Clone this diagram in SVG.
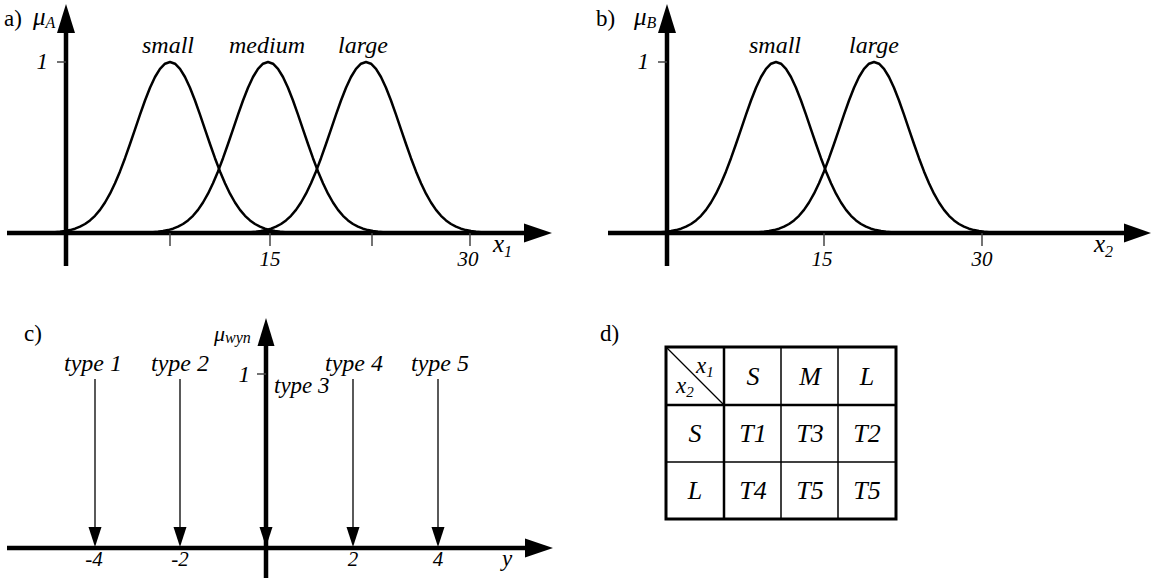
<svg xmlns="http://www.w3.org/2000/svg" xmlns:xlink="http://www.w3.org/1999/xlink" width="1152" height="579" viewBox="0 0 1152 579" font-family="'Liberation Serif', 'Times New Roman', serif">
<style>
  text { font-family: "Liberation Serif", "Times New Roman", serif; fill: #000; }
  .it { font-style: italic; }
  .lbl { font-size: 23px; }
  .set { font-size: 24px; font-style: italic; text-anchor: middle; }
  .num { font-size: 21px; font-style: italic; text-anchor: middle; }
  .axis { stroke: #000; stroke-width: 4.5; fill: none; }
  .tick { stroke: #444; stroke-width: 1.5; }
  .curve { stroke: #000; stroke-width: 2.5; fill: none; stroke-linejoin: round; }
  .thin { stroke: #000; stroke-width: 1.3; }
  .cell { font-size: 26px; font-style: italic; text-anchor: middle; }
  .tb-out { stroke: #000; stroke-width: 3; fill: none; }
  .tb-in { stroke: #000; stroke-width: 1.5; }
  .tb-hd { stroke: #000; stroke-width: 2.5; }
</style>
<defs>
  <path id="bell" class="curve" d="M -130 -0.17 L -120 -0.5 L -115 -0.8 L -110 -1.2 L -105 -1.9 L -100 -2.9 L -95 -4.3 L -90 -6.3 L -85 -9.0 L -80 -12.6 L -75 -17.2 L -70 -23.1 L -65 -30.5 L -60 -39.3 L -55 -49.7 L -50 -61.6 L -45 -74.8 L -40 -89.0 L -35 -103.7 L -30 -118.4 L -25 -132.5 L -20 -145.2 L -15 -156.0 L -10 -164.2 L -5 -169.3 L 0 -171 L 5 -169.3 L 10 -164.2 L 15 -156.0 L 20 -145.2 L 25 -132.5 L 30 -118.4 L 35 -103.7 L 40 -89.0 L 45 -74.8 L 50 -61.6 L 55 -49.7 L 60 -39.3 L 65 -30.5 L 70 -23.1 L 75 -17.2 L 80 -12.6 L 85 -9.0 L 90 -6.3 L 95 -4.3 L 100 -2.9 L 105 -1.9 L 110 -1.2 L 115 -0.8 L 120 -0.5 L 130 -0.17"/>
</defs>

<!-- Panel a -->
<g id="panel-a">
  <use xlink:href="#bell" href="#bell" x="170" y="233"/>
  <use xlink:href="#bell" href="#bell" x="268" y="233"/>
  <use xlink:href="#bell" href="#bell" x="366" y="233"/>
  <line class="axis" x1="66" y1="266" x2="66" y2="30"/>
  <polygon points="66,4 57,33 75,33"/>
  <line class="axis" x1="7" y1="233" x2="526" y2="233"/>
  <polygon points="552,233 524,223.5 524,242.5"/>
  <line class="tick" x1="57" y1="62" x2="66" y2="62"/>
  <line class="tick" x1="170" y1="233" x2="170" y2="246"/>
  <line class="tick" x1="270" y1="233" x2="270" y2="246"/>
  <line class="tick" x1="372" y1="233" x2="372" y2="246"/>
  <line class="tick" x1="470" y1="233" x2="470" y2="246"/>
  <text class="lbl" x="4" y="26">a)</text>
  <text class="it" x="33" y="25" font-size="25">μ<tspan font-size="16" dy="3">A</tspan></text>
  <text class="it lbl" x="48" y="69" text-anchor="end">1</text>
  <text class="set" x="168" y="53">small</text>
  <text class="set" x="267" y="53">medium</text>
  <text class="set" x="363" y="53">large</text>
  <text class="num" x="270" y="266">15</text>
  <text class="num" x="468" y="266">30</text>
  <text class="it" x="493" y="252" font-size="25">x<tspan font-size="16" dy="5">1</tspan></text>
</g>

<!-- Panel b -->
<g id="panel-b">
  <use xlink:href="#bell" href="#bell" x="776" y="233"/>
  <use xlink:href="#bell" href="#bell" x="874" y="233"/>
  <line class="axis" x1="667" y1="266" x2="667" y2="30"/>
  <polygon points="667,4 658,33 676,33"/>
  <line class="axis" x1="608" y1="233" x2="1126" y2="233"/>
  <polygon points="1151,233 1124,223.5 1124,242.5"/>
  <line class="tick" x1="658" y1="62" x2="667" y2="62"/>
  <line class="tick" x1="824" y1="233" x2="824" y2="246"/>
  <line class="tick" x1="982" y1="233" x2="982" y2="246"/>
  <text class="lbl" x="596" y="26">b)</text>
  <text class="it" x="634" y="25" font-size="25">μ<tspan font-size="16" dy="3">B</tspan></text>
  <text class="it lbl" x="649" y="69" text-anchor="end">1</text>
  <text class="set" x="775" y="53">small</text>
  <text class="set" x="874" y="53">large</text>
  <text class="num" x="822" y="266">15</text>
  <text class="num" x="982" y="266">30</text>
  <text class="it" x="1094" y="252" font-size="25">x<tspan font-size="16" dy="5">2</tspan></text>
</g>

<!-- Panel c -->
<g id="panel-c">
  <line class="axis" x1="266" y1="578" x2="266" y2="344"/>
  <polygon points="266,318 257.5,346 274.5,346"/>
  <line class="axis" x1="7" y1="548" x2="527" y2="548"/>
  <polygon points="553,548 525,538.5 525,557.5"/>
  <line class="tick" x1="257" y1="374" x2="266" y2="374"/>
  <text class="lbl" x="24" y="341">c)</text>
  <text class="it" x="214" y="341" font-size="22">μ<tspan font-size="16" dy="2">wyn</tspan></text>
  <text class="it lbl" x="250" y="382" text-anchor="end">1</text>
  <text class="num" x="94" y="566">-4</text>
  <text class="num" x="180" y="566">-2</text>
  <text class="num" x="353" y="566">2</text>
  <text class="num" x="438" y="566">4</text>
  <text class="it" x="507" y="566" font-size="23" text-anchor="middle">y</text>
</g>

<g id="connectors">
  <line class="thin" x1="95" y1="379" x2="95" y2="530"/>
  <polygon points="95,547 88.5,527 101.5,527"/>
  <line class="thin" x1="180" y1="379" x2="180" y2="530"/>
  <polygon points="180,547 173.5,527 186.5,527"/>
  <polygon points="266,547 259.5,527 272.5,527"/>
  <line class="thin" x1="353" y1="379" x2="353" y2="530"/>
  <polygon points="353,547 346.5,527 359.5,527"/>
  <line class="thin" x1="438" y1="379" x2="438" y2="530"/>
  <polygon points="438,547 431.5,527 444.5,527"/>
</g>

<g id="type-1"><text class="set" x="93" y="371" font-size="23">type 1</text></g>
<g id="type-2"><text class="set" x="180" y="371" font-size="23">type 2</text></g>
<g id="type-3"><text class="it" x="274" y="393" font-size="23">type 3</text></g>
<g id="type-4"><text class="set" x="354" y="371" font-size="23">type 4</text></g>
<g id="type-5"><text class="set" x="440" y="371" font-size="23">type 5</text></g>

<!-- Panel d -->
<g id="panel-d">
  <text class="lbl" x="600" y="341">d)</text>
  <line class="tb-in" x1="781" y1="347" x2="781" y2="519"/>
  <line class="tb-in" x1="838" y1="347" x2="838" y2="519"/>
  <line class="tb-in" x1="666" y1="462" x2="896" y2="462"/>
  <line class="tb-hd" x1="724" y1="347" x2="724" y2="519"/>
  <line class="tb-hd" x1="666" y1="405" x2="896" y2="405"/>
  <line stroke="#000" stroke-width="1.2" x1="666" y1="347" x2="724" y2="405"/>
  <rect class="tb-out" x="666" y="347" width="230" height="172"/>
  <text class="it" x="696" y="373" font-size="23">x<tspan font-size="15" dy="4">1</tspan></text>
  <text class="it" x="676" y="393" font-size="23">x<tspan font-size="15" dy="4">2</tspan></text>
  <text class="cell" x="753" y="385">S</text>
  <text class="cell" x="810" y="385">M</text>
  <text class="cell" x="867" y="385">L</text>
  <text class="cell" x="695" y="442">S</text>
  <text class="cell" x="753" y="442">T1</text>
  <text class="cell" x="810" y="442">T3</text>
  <text class="cell" x="867" y="442">T2</text>
  <text class="cell" x="695" y="499">L</text>
  <text class="cell" x="753" y="499">T4</text>
  <text class="cell" x="810" y="499">T5</text>
  <text class="cell" x="867" y="499">T5</text>
</g>
</svg>
